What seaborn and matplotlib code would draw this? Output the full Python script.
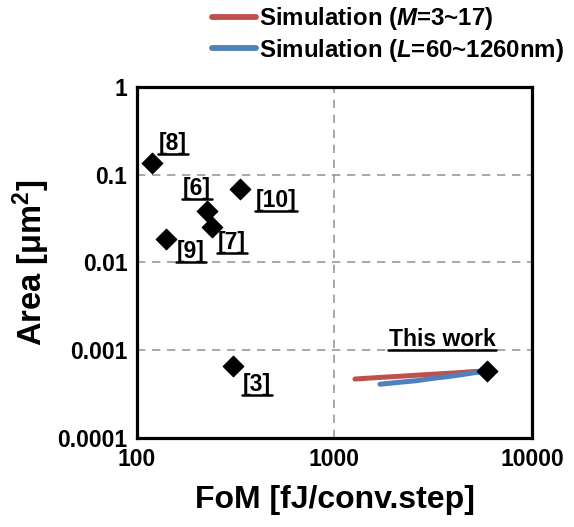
import matplotlib
matplotlib.use("Agg")
import matplotlib.pyplot as plt
import seaborn as sns
import pandas as pd
from matplotlib.lines import Line2D

# reported works
refs = ["[8]", "[9]", "[6]", "[7]", "[10]", "[3]", "This work"]
fom = [119, 140, 226, 240, 332, 306, 5900]
area = [0.136, 0.0185, 0.0386, 0.0254, 0.0688, 0.00066, 0.00058]

# simulation sweeps
sim_m_fom = [1270, 1700, 2300, 3000, 4000, 5000, 5900]
sim_m_area = [0.00047, 0.00049, 0.00051, 0.00053, 0.00055, 0.00057, 0.00058]
sim_l_fom = [1700, 2100, 2600, 3200, 4000, 5000, 5900]
sim_l_area = [0.00041, 0.00043, 0.00045, 0.00048, 0.00051, 0.00055, 0.00058]

# label positions (data coords)
label_pos = [(152, 0.23), (188, 0.0135), (201, 0.0706), (303, 0.0171),
             (506, 0.0515), (405, 0.00041), (3500, 0.00131)]

sns.set_style("white")
plt.rcParams['font.family'] = ['Liberation Sans', 'DejaVu Sans']
plt.rcParams['font.weight'] = 'bold'
plt.rcParams['text.color'] = 'black'
plt.rcParams['axes.labelcolor'] = 'black'
plt.rcParams['xtick.color'] = 'black'
plt.rcParams['ytick.color'] = 'black'
plt.rcParams['mathtext.fontset'] = 'custom'
plt.rcParams['mathtext.rm'] = 'Liberation Sans:bold'
plt.rcParams['mathtext.it'] = 'Liberation Sans:bold:italic'

fig = plt.figure(figsize=(5.74, 5.27), dpi=100)
ax = fig.add_axes([0.2387, 0.1689, 0.688, 0.666])

red = "#c0504d"
blue = "#4f81bd"
sns.lineplot(x=sim_m_fom, y=sim_m_area, ax=ax, color=red, lw=3.6, sort=False,
             label="Simulation ($\\mathit{M}$=3~17)")
sns.lineplot(x=sim_l_fom, y=sim_l_area, ax=ax, color=blue, lw=3.6, sort=False,
             label="Simulation ($\\mathit{L}$=60~1260nm)")

df = pd.DataFrame({"fom": fom, "area": area})
sns.scatterplot(data=df, x="fom", y="area", ax=ax, marker="D", color="black",
                s=110, edgecolor="black", zorder=5, legend=False)

ax.set_xscale("log")
ax.set_yscale("log")
ax.set_xlim(100, 10000)
ax.set_ylim(0.0001, 1)

ax.set_xticks([100, 1000, 10000])
ax.set_xticklabels(["100", "1000", "10000"])
ax.set_yticks([0.0001, 0.001, 0.01, 0.1, 1])
ax.set_yticklabels(["0.0001", "0.001", "0.01", "0.1", "1"])
ax.tick_params(which="major", length=0, labelsize=16.5, pad=7)
ax.tick_params(which="minor", direction="in", length=6, width=1.5, color="black")
ax.tick_params(axis="x", which="minor", top=False)
ax.tick_params(axis="y", which="minor", right=False)
ax.minorticks_on()
ax.grid(True, which="major", linestyle=(0, (5, 4)), color="#999999", lw=1.2)
ax.grid(False, which="minor")

for s in ax.spines.values():
    s.set_linewidth(2.3)
    s.set_color("black")

ax.set_xlabel("FoM [fJ/conv.step]", fontsize=23, fontweight="bold", labelpad=10)
ax.set_ylabel("Area [μm$^2$]", fontsize=23.5, fontweight="bold", labelpad=4)

texts = []
for lab, (lx, ly) in zip(refs, label_pos):
    t = ax.text(lx, ly, lab, fontsize=16.5, fontweight="bold", ha="center", va="center")
    texts.append(t)

leg = ax.legend(loc="upper left", bbox_to_anchor=(212 / 574, 1.0 - 5 / 527),
                bbox_transform=fig.transFigure, frameon=False, fontsize=17.3,
                handlelength=1.85, handletextpad=0.1, labelspacing=0.2,
                borderaxespad=0.0, borderpad=0.0)
for line in leg.get_lines():
    line.set_linewidth(4.2)

# underline the reference labels
fig.canvas.draw()
r = fig.canvas.get_renderer()
inv = fig.transFigure.inverted()
for t in texts:
    bb = t.get_window_extent(renderer=r)
    (x0, y0), (x1, _) = inv.transform([(bb.x0 - 1, bb.y0 + 1), (bb.x1 + 1, bb.y0 + 1)])
    fig.add_artist(Line2D([x0, x1], [y0, y0], transform=fig.transFigure,
                          color="black", lw=1.8))

fig.savefig("out.png", dpi=100)
